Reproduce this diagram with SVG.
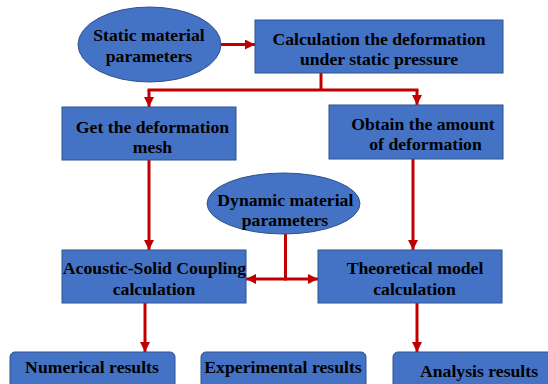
<svg xmlns="http://www.w3.org/2000/svg" width="548" height="384" viewBox="0 0 548 384">
<style>
.n{fill:#4472C4;stroke:#2F528F;stroke-width:1}
.t{font-family:"Liberation Serif","Times New Roman",serif;font-weight:bold;font-size:17.7px;fill:#000;text-anchor:middle}
.c{stroke:#C00000;stroke-width:3;fill:none}
.a{marker-end:url(#ah)}
</style>
<defs>
<marker id="ah" markerUnits="userSpaceOnUse" markerWidth="10" markerHeight="10" refX="10" refY="5" orient="auto">
<path d="M0,0 L10,5 L0,10 z" fill="#C00000"/>
</marker>
</defs>
<rect width="548" height="384" fill="#fff"/>
<g id="connectors">
<path class="c a" d="M221,44.5 H255"/>
<path class="c" d="M321,73 V90 M147.5,90 H418.5"/>
<path class="c a" d="M149,90 V107"/>
<path class="c a" d="M417,90 V105"/>
<path class="c a" d="M149,160 V250"/>
<path class="c a" d="M413,159 V250"/>
<path class="c" d="M285.5,234 V279"/>
<path class="c a" d="M287,279 H246"/>
<path class="c a" d="M284,279 H318"/>
<path class="c a" d="M145,303 V352"/>
<path class="c a" d="M417,303 V352"/>
</g>
<g id="static">
<ellipse class="n" cx="149.5" cy="44.5" rx="71.5" ry="37.5"/>
<text class="t" x="149" y="40.5">Static material</text>
<text class="t" x="149" y="62">parameters</text>
</g>
<g id="calc">
<rect class="n" x="255" y="20" width="248" height="53"/>
<text class="t" x="379" y="44.5">Calculation the deformation</text>
<text class="t" x="379" y="65">under static pressure</text>
</g>
<g id="mesh">
<rect class="n" x="62" y="107" width="174" height="53"/>
<text class="t" x="152.5" y="132.5">Get the deformation</text>
<text class="t" x="152.5" y="153">mesh</text>
</g>
<g id="amount">
<rect class="n" x="329" y="105" width="174" height="54"/>
<text class="t" x="423" y="129.5">Obtain the amount</text>
<text class="t" x="425.5" y="150">of deformation</text>
</g>
<g id="dynamic">
<ellipse class="n" cx="283.5" cy="203.5" rx="76.5" ry="30.5"/>
<text class="t" x="285.3" y="205.5">Dynamic material</text>
<text class="t" x="285" y="225.5">parameters</text>
</g>
<g id="acoustic">
<rect class="n" x="62" y="250" width="184" height="53"/>
<text class="t" x="154.5" y="274">Acoustic-Solid Coupling</text>
<text class="t" x="154" y="294.7">calculation</text>
</g>
<g id="theory">
<rect class="n" x="318" y="250" width="184" height="53"/>
<text class="t" x="415" y="273.7">Theoretical model</text>
<text class="t" x="414.5" y="294.7">calculation</text>
</g>
<g id="numerical">
<rect class="n" x="10" y="352" width="165" height="40" rx="5"/>
<text class="t" x="92" y="373">Numerical results</text>
</g>
<g id="experimental">
<rect class="n" x="201" y="352" width="165" height="40" rx="5"/>
<text class="t" x="283" y="373">Experimental results</text>
</g>
<g id="analysis">
<rect class="n" x="393" y="352" width="165" height="40" rx="5"/>
<text class="t" x="479" y="377">Analysis results</text>
</g>
</svg>
